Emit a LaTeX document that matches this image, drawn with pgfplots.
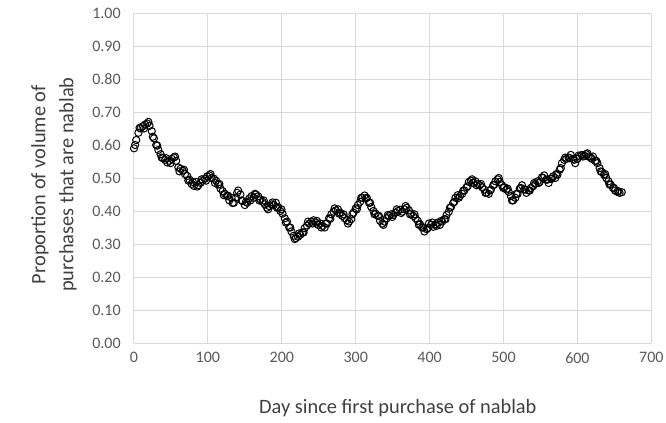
\documentclass[border=0pt]{standalone}
\usepackage{pgfplots}
\pgfplotsset{compat=1.18}
\usepackage{fontspec}
\setmainfont{Carlito}
\definecolor{gridc}{HTML}{D9D9D9}
\definecolor{tickc}{HTML}{595959}
\definecolor{labc}{HTML}{404040}
\pgfplotsset{circ/.style={only marks, mark=o, mark size=2.7pt, mark options={draw=black, fill=white, line width=0.75pt}}}
\begin{document}
\begin{tikzpicture}
\begin{axis}[
  scale only axis,
  width=388pt, height=247.5pt,
  xmin=0, xmax=700, ymin=0, ymax=1,
  xtick={0,100,...,700},
  ytick={0,0.1,...,1.0},
  grid=major,
  major grid style={gridc, line width=0.75pt},
  axis line style={gridc, line width=0.75pt},
  axis x line*=bottom, axis y line*=left,
  x axis line style={-}, y axis line style={-},
  major tick length=0pt,
  tick style={draw=none},
  /pgf/number format/assume math mode=true,
  ticklabel style={font=\fontsize{12}{14}\selectfont, text=tickc},
  yticklabel style={xshift=-6.5pt, /pgf/number format/.cd, fixed, fixed zerofill, precision=2},
  xticklabel style={yshift=-3.5pt, /pgf/number format/.cd, fixed, precision=0},
  scaled ticks=false,
  xlabel={Day since first purchase of nablab},
  ylabel={Proportion of volume of\\purchases that are nablab},
  xlabel style={font=\fontsize{15.3}{18}\selectfont, text=labc, at={(axis description cs:0.51,-0.197)}, anchor=center},
  ylabel style={font=\fontsize{15.3}{21}\selectfont, text=labc, align=center, at={(axis description cs:-0.155,0.48)}, anchor=center},
  clip=false,
]
\addplot[circ] table {
x y
0 0.590
3 0.615
6 0.637
9 0.650
12 0.657
15 0.662
18 0.665
21 0.658
24 0.642
27 0.620
30 0.600
33 0.585
36 0.572
39 0.560
42 0.555
45 0.547
48 0.552
51 0.558
54 0.562
57 0.552
60 0.532
63 0.528
66 0.522
69 0.512
72 0.506
75 0.495
78 0.482
81 0.476
84 0.488
87 0.478
90 0.485
93 0.492
96 0.498
99 0.505
102 0.508
105 0.500
108 0.498
111 0.492
114 0.480
117 0.468
120 0.460
123 0.452
126 0.445
129 0.432
132 0.440
135 0.425
138 0.440
141 0.462
144 0.450
147 0.430
150 0.418
153 0.425
156 0.438
159 0.445
162 0.440
165 0.450
168 0.445
171 0.435
174 0.428
177 0.420
180 0.410
183 0.415
186 0.420
189 0.418
192 0.425
195 0.412
198 0.400
201 0.392
204 0.378
207 0.368
210 0.350
213 0.338
216 0.325
219 0.318
222 0.322
225 0.328
228 0.335
231 0.348
234 0.356
237 0.362
240 0.368
243 0.372
246 0.365
249 0.358
252 0.362
255 0.355
258 0.350
261 0.362
264 0.378
267 0.390
270 0.398
273 0.402
276 0.405
279 0.395
282 0.385
285 0.378
288 0.372
291 0.368
294 0.375
297 0.395
300 0.408
303 0.418
306 0.428
309 0.440
312 0.447
315 0.440
318 0.425
321 0.412
324 0.400
327 0.392
330 0.385
333 0.370
336 0.362
339 0.368
342 0.378
345 0.385
348 0.390
351 0.388
354 0.395
357 0.400
360 0.404
363 0.398
366 0.405
369 0.410
372 0.402
375 0.392
378 0.385
381 0.378
384 0.370
387 0.360
390 0.350
393 0.338
396 0.345
399 0.362
402 0.358
405 0.352
408 0.360
411 0.365
414 0.358
417 0.368
420 0.375
423 0.388
426 0.398
429 0.412
432 0.425
435 0.440
438 0.448
441 0.445
444 0.452
447 0.462
450 0.472
453 0.488
456 0.492
459 0.485
462 0.490
465 0.482
468 0.478
471 0.472
474 0.465
477 0.455
480 0.452
483 0.465
486 0.478
489 0.490
492 0.496
495 0.488
498 0.478
501 0.472
504 0.465
507 0.458
510 0.445
513 0.432
516 0.440
519 0.452
522 0.468
525 0.478
528 0.465
531 0.455
534 0.462
537 0.470
540 0.475
543 0.482
546 0.490
549 0.488
552 0.502
555 0.508
558 0.495
561 0.485
564 0.498
567 0.505
570 0.500
573 0.510
576 0.525
579 0.545
582 0.555
585 0.558
588 0.562
591 0.570
594 0.558
597 0.545
600 0.558
603 0.565
606 0.570
609 0.568
612 0.572
615 0.565
618 0.562
621 0.565
624 0.552
627 0.545
630 0.530
633 0.518
636 0.510
639 0.500
642 0.490
645 0.480
648 0.470
651 0.462
654 0.458
657 0.455
660 0.457
};
\addplot[circ] table {
x y
1.5 0.600
7.5 0.652
13.5 0.650
19.5 0.670
25.5 0.625
31.5 0.598
37.5 0.562
43.5 0.560
49.5 0.545
55.5 0.565
61.5 0.520
67.5 0.525
73.5 0.492
79.5 0.488
85.5 0.474
91.5 0.496
97.5 0.492
103.5 0.512
109.5 0.485
115.5 0.482
121.5 0.448
127.5 0.446
133.5 0.424
139.5 0.455
145.5 0.432
151.5 0.428
157.5 0.432
163.5 0.452
169.5 0.432
175.5 0.432
181.5 0.405
187.5 0.426
193.5 0.410
199.5 0.405
205.5 0.365
211.5 0.350
217.5 0.315
223.5 0.332
229.5 0.335
235.5 0.368
241.5 0.362
247.5 0.370
253.5 0.350
259.5 0.362
265.5 0.376
271.5 0.408
277.5 0.392
283.5 0.390
289.5 0.362
295.5 0.390
301.5 0.405
307.5 0.440
313.5 0.438
319.5 0.425
325.5 0.390
331.5 0.385
337.5 0.358
343.5 0.388
349.5 0.382
355.5 0.405
361.5 0.394
367.5 0.415
373.5 0.390
379.5 0.390
385.5 0.358
391.5 0.350
397.5 0.348
403.5 0.365
409.5 0.355
415.5 0.370
421.5 0.375
427.5 0.410
433.5 0.428
439.5 0.440
445.5 0.462
451.5 0.475
457.5 0.496
463.5 0.478
469.5 0.482
475.5 0.455
481.5 0.462
487.5 0.480
493.5 0.500
499.5 0.470
505.5 0.468
511.5 0.432
517.5 0.452
523.5 0.470
529.5 0.465
535.5 0.462
541.5 0.485
547.5 0.485
553.5 0.500
559.5 0.495
565.5 0.498
571.5 0.512
577.5 0.530
583.5 0.562
589.5 0.560
595.5 0.555
601.5 0.568
607.5 0.565
613.5 0.575
619.5 0.558
625.5 0.552
631.5 0.520
637.5 0.512
643.5 0.480
649.5 0.470
655.5 0.460
};
\end{axis}
\pgfresetboundingbox
\path ([shift={(-100.5pt,-59.25pt)}]current axis.south west) rectangle ([shift={(399pt,257.25pt)}]current axis.south west);
\end{tikzpicture}
\end{document}
